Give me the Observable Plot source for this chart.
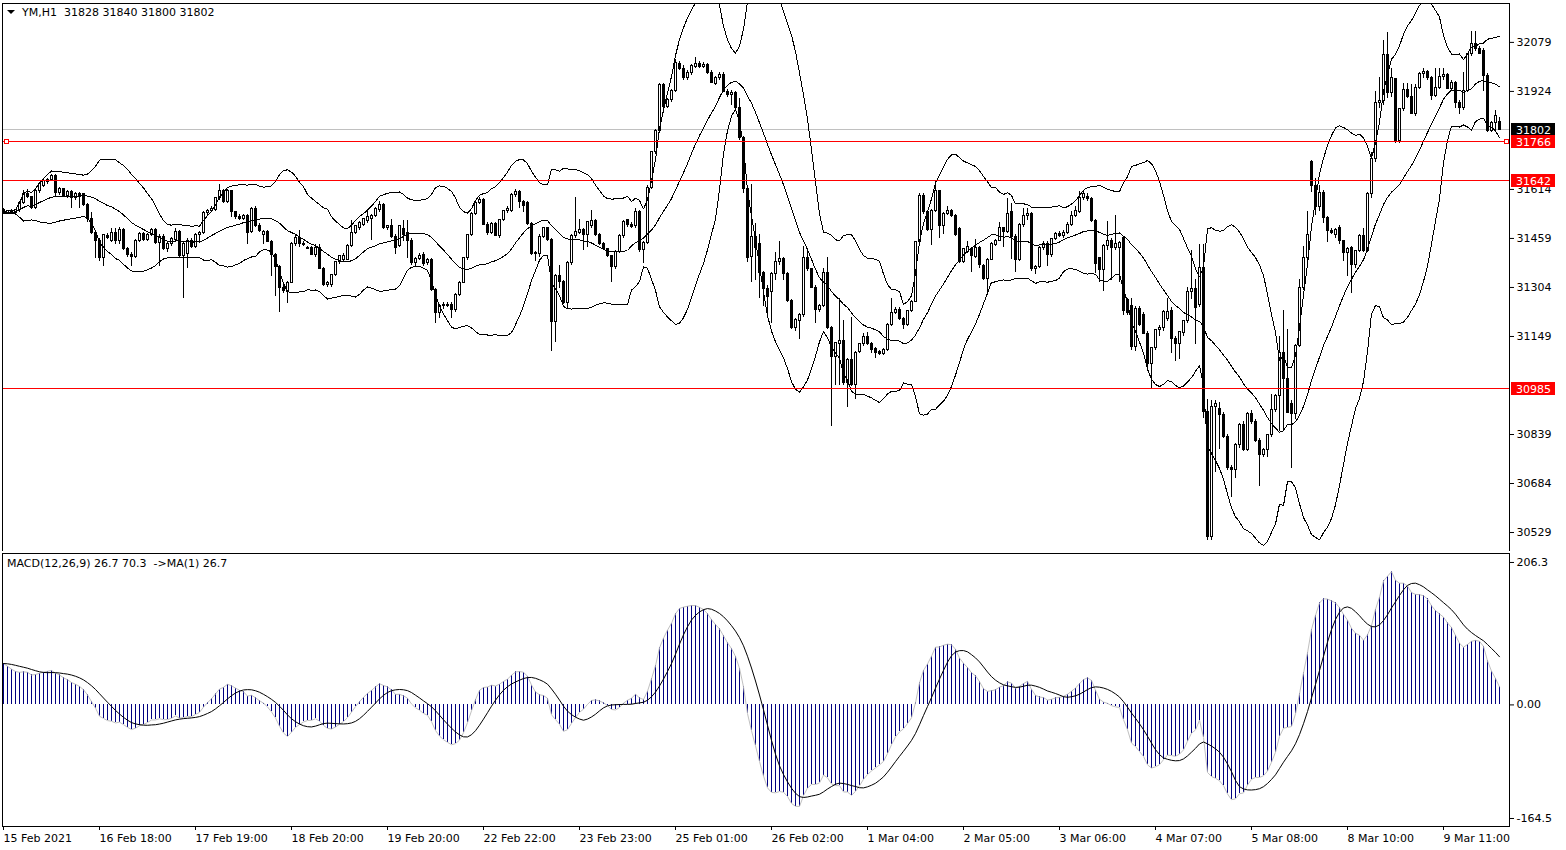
<!DOCTYPE html>
<html><head><meta charset="utf-8">
<script src="https://cdn.jsdelivr.net/npm/d3@7"></script>
<script src="https://cdn.jsdelivr.net/npm/@observablehq/plot@0.6"></script>
<style>
html,body{margin:0;padding:0;background:#fff;}
#wrap{position:relative;width:1566px;height:850px;overflow:hidden;background:#fff;}
#main,#macd{position:absolute;left:0;}
#main{top:0;} #macd{top:551px;}
svg text{font-family:"DejaVu Sans",sans-serif;}
#macd svg [aria-label^="x-axis"] text, #macd svg [aria-label^="x-axis"]{text-anchor:start;}
</style></head>
<body><div id="wrap"><div id="main"></div><div id="macd"></div></div>
<script>
// ---------- data (YM, H1) ----------
const opens = [
31550,31540,31545,31540,31548,31570,31600,31590,31555,31608,
31625,31638,31645,31655,31603,31615,31593,31605,31588,31600,
31598,31565,31520,31475,31452,31397,31466,31452,31475,31450,
31485,31425,31408,31400,31452,31473,31455,31470,31485,31445,
31465,31425,31440,31455,31480,31405,31410,31452,31432,31470,
31475,31540,31545,31548,31586,31608,31575,31608,31542,31526,
31520,31530,31480,31553,31497,31470,31480,31447,31408,31369,
31302,31290,31319,31441,31461,31441,31430,31428,31408,31430,
31363,31313,31313,31343,31383,31390,31392,31436,31477,31492,
31503,31514,31519,31530,31548,31566,31492,31497,31464,31435,
31490,31475,31452,31380,31395,31408,31380,31390,31297,31224,
31245,31250,31248,31232,31280,31319,31397,31469,31536,31570,
31580,31503,31475,31505,31468,31517,31545,31545,31597,31605,
31575,31570,31506,31410,31410,31464,31491,31453,31196,31341,
31320,31255,31380,31466,31475,31486,31470,31497,31513,31470,
31442,31425,31402,31370,31415,31466,31518,31500,31497,31543,
31421,31445,31620,31731,31798,31943,31876,31898,31926,32010,
31996,31965,31982,32000,32012,32001,32008,31982,31948,31965,
31976,31923,31912,31920,31870,31777,31614,31400,31465,31440,
31350,31300,31290,31345,31383,31395,31345,31260,31176,31197,
31218,31398,31361,31302,31234,31245,31350,31176,31085,31125,
31135,31002,31074,30996,31100,31124,31146,31124,31110,31100,
31095,31105,31185,31224,31232,31205,31185,31230,31258,31447,
31592,31542,31486,31547,31608,31497,31536,31545,31530,31490,
31386,31415,31425,31400,31430,31372,31330,31391,31439,31452,
31491,31480,31542,31464,31391,31503,31530,31535,31363,31370,
31430,31443,31408,31458,31473,31467,31477,31503,31530,31542,
31586,31590,31583,31514,31397,31358,31435,31452,31430,31430,
31460,31265,31245,31115,31235,31218,31158,31063,31113,31168,
31175,31205,31230,31140,31125,31160,31197,31290,31300,31250,
31366,30910,30515,30925,30920,30900,30830,30734,30728,30806,
30868,30790,30905,30879,30817,30775,30790,30838,30918,30960,
31097,31013,30935,30905,31120,31303,31398,31700,31625,31560,
31603,31524,31482,31470,31491,31450,31413,31430,31375,31419,
31466,31419,31600,31709,31888,31895,32040,31920,31962,31767,
31867,31930,31905,31852,31935,31978,31985,31965,31910,31936,
31968,31975,31932,31950,31888,31870,31925,32041,32073,32058,
32052,31973,31800,31825,31828];
const highs = [
31555,31548,31552,31552,31575,31610,31615,31592,31615,31635,
31645,31650,31662,31660,31620,31618,31610,31610,31605,31605,
31602,31568,31540,31480,31460,31470,31475,31490,31490,31495,
31490,31430,31415,31455,31478,31478,31475,31490,31492,31470,
31470,31445,31462,31490,31485,31445,31460,31458,31475,31480,
31545,31550,31560,31590,31630,31615,31615,31612,31545,31535,
31535,31535,31558,31560,31505,31485,31485,31452,31410,31372,
31310,31322,31445,31470,31485,31450,31435,31432,31440,31440,
31366,31322,31345,31385,31405,31410,31440,31515,31500,31512,
31522,31548,31535,31558,31575,31570,31500,31519,31470,31500,
31515,31515,31460,31400,31412,31415,31395,31395,31300,31250,
31255,31258,31255,31285,31322,31400,31470,31540,31575,31590,
31585,31510,31510,31510,31520,31548,31560,31600,31615,31610,
31578,31575,31510,31418,31470,31495,31495,31458,31345,31375,
31325,31385,31470,31590,31520,31490,31512,31548,31520,31475,
31445,31428,31405,31420,31470,31515,31520,31508,31555,31548,
31450,31625,31735,31805,31950,31948,31900,31930,32026,32018,
32005,31990,32010,32032,32020,32015,32012,31990,31970,31985,
31985,31930,31928,31925,31900,31780,31620,31630,31505,31470,
31355,31310,31350,31415,31450,31400,31350,31265,31205,31222,
31435,31420,31365,31310,31250,31365,31398,31180,31130,31268,
31200,31080,31210,31100,31128,31158,31163,31130,31115,31105,
31110,31190,31270,31240,31240,31210,31232,31262,31450,31602,
31600,31548,31550,31642,31612,31540,31560,31550,31535,31495,
31428,31450,31430,31455,31435,31378,31395,31445,31455,31508,
31495,31586,31570,31470,31505,31553,31555,31540,31375,31435,
31448,31450,31460,31478,31480,31485,31510,31545,31560,31608,
31612,31600,31588,31520,31400,31440,31514,31460,31530,31450,
31465,31270,31270,31245,31245,31225,31165,31115,31170,31185,
31230,31270,31240,31150,31165,31200,31305,31420,31330,31440,
31440,30950,30945,30945,30940,30910,30840,30740,30810,30875,
30880,30910,30915,30885,30825,30795,30840,30965,30965,31150,
31230,31170,30945,31125,31330,31435,31545,31705,31650,31625,
31610,31528,31490,31490,31500,31452,31430,31435,31420,31470,
31490,31605,31730,31925,31968,32085,32110,31995,31965,31870,
31950,31950,31945,31945,31985,31995,31990,31970,31995,31995,
31995,31980,31960,31955,31895,31985,32045,32115,32115,32065,
32060,31980,31830,31865,31840];
const lows = [
31535,31535,31535,31535,31540,31565,31585,31550,31550,31600,
31620,31630,31640,31590,31595,31590,31585,31553,31580,31553,
31560,31510,31470,31395,31385,31370,31455,31445,31440,31440,
31420,31400,31370,31395,31445,31450,31450,31465,31440,31370,
31420,31415,31435,31450,31400,31270,31365,31428,31428,31450,
31470,31528,31540,31545,31580,31570,31570,31525,31520,31515,
31515,31441,31475,31495,31478,31440,31445,31340,31275,31225,
31285,31252,31315,31435,31430,31432,31425,31405,31400,31360,
31308,31305,31305,31340,31378,31385,31388,31430,31470,31485,
31498,31505,31452,31525,31540,31488,31485,31460,31408,31430,
31450,31395,31375,31370,31390,31370,31372,31290,31190,31205,
31235,31240,31207,31225,31275,31315,31390,31465,31530,31565,
31500,31468,31470,31465,31460,31512,31538,31540,31590,31553,
31542,31500,31405,31385,31400,31458,31450,31102,31130,31300,
31250,31235,31375,31460,31470,31420,31430,31492,31465,31438,
31420,31400,31319,31360,31410,31460,31495,31490,31492,31415,
31380,31440,31615,31725,31790,31870,31870,31890,31920,31990,
31960,31958,31975,31995,31998,31995,31978,31948,31942,31960,
31920,31905,31880,31865,31770,31600,31383,31320,31325,31270,
31245,31215,31190,31325,31375,31325,31255,31170,31165,31140,
31210,31355,31300,31190,31225,31240,31170,30865,30995,30995,
30995,30925,30990,30950,31095,31118,31120,31095,31080,31090,
31090,31100,31180,31220,31200,31170,31180,31225,31255,31440,
31535,31480,31436,31540,31460,31470,31530,31525,31465,31380,
31380,31410,31352,31395,31365,31325,31280,31388,31435,31448,
31430,31475,31391,31352,31385,31495,31515,31355,31345,31365,
31420,31370,31400,31452,31462,31460,31470,31498,31525,31538,
31580,31575,31510,31347,31319,31292,31420,31325,31420,31320,
31215,31215,31105,31100,31180,31155,31050,30985,31105,31150,
31165,31195,31096,31070,31075,31150,31190,31265,31125,31240,
30890,30505,30505,30720,30790,30825,30725,30640,30700,30795,
30785,30785,30870,30815,30675,30765,30765,30830,30910,30850,
30850,30905,30730,30885,31115,31295,31390,31605,31530,31545,
31505,31445,31470,31460,31440,31385,31340,31285,31365,31415,
31415,31415,31585,31700,31870,31880,31900,31905,31760,31760,
31860,31900,31850,31845,31930,31965,31960,31895,31905,31930,
31960,31930,31925,31870,31850,31865,31920,32035,32050,32040,
31925,31795,31795,31800,31800];
const closes = [
31540,31545,31540,31548,31570,31600,31590,31555,31608,31630,
31640,31645,31655,31603,31615,31593,31605,31588,31600,31590,
31565,31520,31475,31452,31397,31470,31460,31475,31450,31485,
31425,31408,31400,31452,31473,31455,31470,31485,31445,31465,
31425,31440,31458,31480,31405,31440,31452,31432,31470,31475,
31540,31545,31553,31586,31608,31575,31608,31542,31526,31520,
31530,31475,31553,31497,31481,31480,31447,31408,31369,31302,
31292,31319,31441,31461,31441,31440,31428,31408,31430,31363,
31313,31318,31343,31383,31402,31405,31436,31477,31497,31508,
31519,31528,31530,31553,31566,31492,31497,31464,31430,31497,
31470,31452,31380,31395,31405,31378,31390,31297,31224,31245,
31250,31248,31232,31280,31319,31397,31469,31536,31570,31580,
31503,31475,31505,31468,31517,31545,31552,31597,31605,31575,
31562,31506,31410,31412,31464,31491,31453,31196,31341,31320,
31255,31380,31466,31480,31486,31470,31510,31513,31470,31442,
31425,31402,31370,31415,31466,31510,31500,31497,31543,31421,
31445,31620,31731,31798,31943,31876,31898,31926,32015,31996,
31965,31982,32004,32012,32001,32008,31982,31952,31965,31976,
31923,31912,31918,31870,31777,31614,31397,31465,31430,31350,
31300,31275,31345,31383,31395,31345,31260,31176,31202,31218,
31398,31361,31302,31234,31245,31350,31176,31085,31128,31135,
31002,31074,30996,31096,31124,31146,31124,31107,31098,31095,
31105,31185,31224,31232,31205,31185,31230,31258,31447,31592,
31542,31486,31547,31608,31497,31536,31545,31530,31470,31386,
31425,31432,31405,31430,31375,31330,31391,31441,31452,31491,
31480,31536,31464,31391,31503,31530,31535,31363,31370,31430,
31443,31408,31458,31473,31467,31477,31503,31530,31547,31586,
31600,31583,31514,31377,31358,31435,31452,31430,31440,31445,
31230,31224,31115,31235,31185,31158,31063,31113,31168,31175,
31225,31225,31140,31125,31163,31197,31290,31300,31240,31366,
30910,30515,30925,30935,30900,30830,30734,30728,30806,30868,
30790,30905,30879,30817,30775,30790,30838,30918,30960,31097,
31013,30908,30905,31120,31303,31398,31470,31625,31560,31603,
31524,31482,31475,31486,31450,31413,31425,31375,31419,31466,
31419,31600,31709,31888,31895,32040,31920,31965,31767,31867,
31930,31905,31852,31935,31978,31985,31965,31910,31936,31968,
31975,31932,31950,31888,31870,31925,32041,32073,32058,32042,
31973,31799,31825,31845,31802];

// right-axis labels that are not hidden under the price tags
const priceTicks = [32079,31924,31614,31459,31304,31149,30839,30684,30529];
const timeTickBars = [0,24,48,72,96,120,144,168,192,216,240,264,288,312,336,360];
const timeTickLabels = ["15 Feb 2021","16 Feb 18:00","17 Feb 19:00","18 Feb 20:00","19 Feb 20:00",
  "22 Feb 22:00","23 Feb 23:00","25 Feb 01:00","26 Feb 02:00","1 Mar 04:00","2 Mar 05:00",
  "3 Mar 06:00","4 Mar 07:00","5 Mar 08:00","8 Mar 10:00","9 Mar 11:00"];
const levelLines = [31766, 31642, 30985];
const bidPrice = 31802;
const headerSymbol = "YM,H1";
const headerOHLC = "31828 31840 31800 31802";
const macdLabel = "MACD(12,26,9) 26.7 70.3  ->MA(1) 26.7";
const macdTicks = [206.3, 0, -164.5];
const macdSeed = 60;          // MACD level at the left edge of the window
const bbPeriod = 20, bbDev = 2, fastP = 12, slowP = 26, sigP = 9;

// ---------- derived series ----------
const bars = closes.map((c, i) => ({i, o: opens[i], h: highs[i], l: lows[i], c, up: c >= opens[i]}));
const bands = closes.map((c, i) => {
  const w = closes.slice(Math.max(0, i - bbPeriod + 1), i + 1);
  const m = d3.mean(w);
  const sd = Math.sqrt(d3.mean(w, v => (v - m) ** 2));
  return {i, mid: m, up: m + bbDev * sd, lo: m - bbDev * sd};
});
let e12 = closes[0], e26 = closes[0] - macdSeed;
const k12 = 2 / (fastP + 1), k26 = 2 / (slowP + 1);
const macd = closes.map((c, i) => {
  if (i > 0) { e12 += k12 * (c - e12); e26 += k26 * (c - e26); }
  return e12 - e26;
});
const signal = macd.map((m, i) => {
  let s = 0;
  for (let j = i - sigP + 1; j <= i; j++) s += j < 0 ? macdSeed : macd[j];
  return s / sigP;
});
const macdData = macd.map((m, i) => ({i, m, s: signal[i]}));

const xDomain = [-0.25, 376.5];
const crisp = {shapeRendering: "crispEdges"};
const font = {fontFamily: "DejaVu Sans, sans-serif", fontSize: "11px", color: "#000", background: "#fff", overflow: "hidden"};

// ---------- main price panel ----------
const mainChart = Plot.plot({
  width: 1566, height: 552,
  marginLeft: 2, marginRight: 57, marginTop: 3, marginBottom: 1,
  style: font,
  x: {domain: xDomain, axis: null},
  y: {domain: [30469, 32202], axis: "right", ticks: priceTicks, tickFormat: d => String(d),
      tickSize: 4, tickPadding: 3, label: null},
  marks: [
    Plot.ruleY([bidPrice], {stroke: "#c0c0c0", ...crisp}),
    Plot.ruleX(bars, {x: "i", y1: "l", y2: "h", stroke: "#000", ...crisp}),
    Plot.rect(bars, {x1: d => d.i - 0.25, x2: d => d.i + 0.25,
      y1: d => Math.min(d.o, d.c), y2: d => Math.max(d.o, d.c),
      fill: d => d.up ? "#fff" : "#000", stroke: "#000", strokeWidth: 1, ...crisp}),
    Plot.ruleY(bars.filter(d => Math.abs(d.o - d.c) < 4), {y: "c", x1: d => d.i - 0.375, x2: d => d.i + 0.375, stroke: "#000", ...crisp}),
    Plot.line(bands, {x: "i", y: "up", stroke: "#000", strokeWidth: 1, clip: true, ...crisp}),
    Plot.line(bands, {x: "i", y: "mid", stroke: "#000", strokeWidth: 1, clip: true, ...crisp}),
    Plot.line(bands, {x: "i", y: "lo", stroke: "#000", strokeWidth: 1, clip: true, ...crisp}),
    Plot.ruleY(levelLines, {stroke: "#ff0000", strokeWidth: 1, ...crisp}),
    Plot.frame({stroke: "#000", ...crisp})
  ]
});
document.getElementById("main").appendChild(mainChart);

// overlays on main panel: header, price tags, line anchors
{
  const ys = mainChart.scale("y");
  const yS = d3.scaleLinear(ys.domain, ys.range);
  const xs = mainChart.scale("x");
  const xS = d3.scaleLinear(xs.domain, xs.range);
  const svg = d3.select(mainChart);
  const right = xS(xDomain[1]);
  const left = xS(xDomain[0]);
  svg.append("path").attr("d", "M7,10 L15,10 L11,14 Z").attr("fill", "#000");
  svg.append("text").attr("x", 22).attr("y", 16).attr("font-size", 11).attr("fill", "#000")
     .attr("text-anchor", "start").style("text-anchor", "start")
     .attr("xml:space", "preserve").text(headerSymbol + "  " + headerOHLC);
  const tags = [{v: bidPrice, bg: "#000"}].concat(levelLines.map(v => ({v, bg: "#ff0000"})));
  for (const t of tags) {
    const yy = Math.round(yS(t.v)) + 0.5;
    svg.append("rect").attr("x", right + 2).attr("y", Math.round(yy - 6.5)).attr("width", 44).attr("height", 13).attr("fill", t.bg);
    svg.append("text").attr("x", right + 7).attr("y", yy + 4).attr("font-size", 11).attr("fill", "#fff")
       .attr("text-anchor", "start").style("text-anchor", "start").text(String(t.v));
  }
  const ya = Math.round(yS(levelLines[0]));
  for (const xa of [left + 2, right - 5]) {
    svg.append("rect").attr("x", xa + 0.5).attr("y", ya - 1.5).attr("width", 4).attr("height", 4)
       .attr("fill", "#fff").attr("stroke", "#ff0000").attr("stroke-width", 1);
  }
}

// ---------- MACD panel ----------
const macdChart = Plot.plot({
  width: 1566, height: 299,
  marginLeft: 2, marginRight: 57, marginTop: 2, marginBottom: 24,
  style: font,
  x: {domain: xDomain, ticks: timeTickBars, tickFormat: d => timeTickLabels[timeTickBars.indexOf(d)],
      tickSize: 4, tickPadding: 4, label: null},
  y: {domain: [-176.1, 219.3], axis: "right", ticks: macdTicks,
      tickFormat: d => d === 0 ? "0.00" : d.toFixed(1), tickSize: 4, tickPadding: 3, label: null},
  marks: [
    Plot.ruleX(macdData, {x: "i", y1: 0, y2: "m", stroke: "#000080", ...crisp}),
    Plot.line(macdData, {x: "i", y: "m", stroke: "#c0c0c0", strokeWidth: 1}),
    Plot.line(macdData, {x: "i", y: "s", stroke: "#000", strokeWidth: 1}),
    Plot.frame({stroke: "#000", ...crisp})
  ]
});
document.getElementById("macd").appendChild(macdChart);
d3.select(macdChart).append("text").attr("x", 7).attr("y", 16).attr("font-size", 11).attr("fill", "#000")
  .attr("text-anchor", "start").style("text-anchor", "start")
  .attr("xml:space", "preserve").text(macdLabel);
</script>
</body></html>
